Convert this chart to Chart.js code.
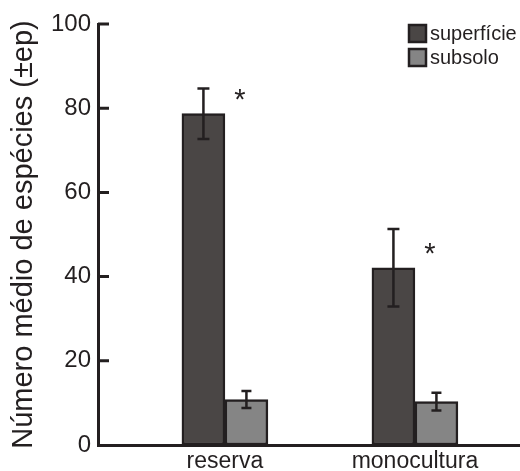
<!DOCTYPE html>
<html>
<head>
<meta charset="utf-8">
<script src="https://cdn.jsdelivr.net/npm/chart.js@4"></script>
<style>
  html, body { margin: 0; padding: 0; background: #fff; }
</style>
</head>
<body>
<canvas id="grafico" width="520" height="471"></canvas>
<script>
// Dados
const categorias = ["reserva", "monocultura"];
const superficie = [78.7, 42.1];
const superficieEp = [6.0, 9.2];
const subsolo = [10.8, 10.3];
const subsoloEp = [2.0, 2.1];
const asteriscos = [true, true]; // diferença significativa (superfície x subsolo)
const marcasY = [0, 20, 40, 60, 80, 100];

const preto = "#231f20";
const fonte = "'Liberation Sans', Arial, sans-serif";

// barras de erro, asteriscos, marcas internas do eixo y e legenda
const extras = {
  id: "extras",
  afterDatasetsDraw(chart) {
    const ctx = chart.ctx;
    const y = chart.scales.y;
    ctx.save();
    ctx.strokeStyle = preto;
    ctx.lineWidth = 2.5;
    chart.data.datasets.forEach((ds, i) => {
      const meta = chart.getDatasetMeta(i);
      meta.data.forEach((bar, j) => {
        const v = ds.data[j].y;
        const ep = ds.ep[j];
        const yTop = y.getPixelForValue(v + ep);
        const yBot = y.getPixelForValue(v - ep);
        const cap = i === 0 ? 6 : 5;
        ctx.beginPath();
        ctx.moveTo(bar.x, yTop);
        ctx.lineTo(bar.x, yBot);
        ctx.moveTo(bar.x - cap, yTop);
        ctx.lineTo(bar.x + cap, yTop);
        ctx.moveTo(bar.x - cap, yBot);
        ctx.lineTo(bar.x + cap, yBot);
        ctx.stroke();
      });
    });

    // asteriscos sobre as barras de superfície
    const meta0 = chart.getDatasetMeta(0);
    ctx.fillStyle = preto;
    ctx.font = "29px " + fonte;
    ctx.textAlign = "center";
    ctx.textBaseline = "alphabetic";
    meta0.data.forEach((bar, j) => {
      if (!asteriscos[j]) return;
      ctx.fillText("*", bar.x + bar.width / 2 + 15, bar.y - 22 + 17);
    });
    ctx.restore();
  },
  afterDraw(chart) {
    const ctx = chart.ctx;
    const y = chart.scales.y;
    const area = chart.chartArea;
    ctx.save();
    // marcas do eixo y para dentro
    ctx.strokeStyle = preto;
    ctx.lineWidth = 3;
    ctx.beginPath();
    marcasY.forEach(m => {
      if (m === 0) return;
      const py = y.getPixelForValue(m);
      ctx.moveTo(area.left, py);
      ctx.lineTo(area.left + 11, py);
    });
    ctx.stroke();

    // legenda
    const lx = 409, ly = 25, passo = 24, lado = 17;
    ctx.font = "20px " + fonte;
    ctx.textAlign = "left";
    ctx.textBaseline = "middle";
    chart.data.datasets.forEach((ds, i) => {
      const top = ly + i * passo;
      ctx.fillStyle = ds.backgroundColor;
      ctx.fillRect(lx, top, lado, lado);
      ctx.lineWidth = 2.5;
      ctx.strokeStyle = preto;
      ctx.strokeRect(lx, top, lado, lado);
      ctx.fillStyle = preto;
      ctx.fillText(ds.label, lx + lado + 4, top + lado / 2 + 1);
    });
    ctx.restore();
  }
};

const ctx = document.getElementById("grafico").getContext("2d");

new Chart(ctx, {
  type: "bar",
  data: {
    datasets: [
      {
        label: "superfície",
        data: superficie.map((v, i) => ({ x: i + 1, y: v })),
        ep: superficieEp,
        backgroundColor: "#4a4645",
        borderColor: preto,
        borderWidth: 2.5,
        borderSkipped: false,
        barThickness: 43,
      },
      {
        label: "subsolo",
        data: subsolo.map((v, i) => ({ x: i + 1, y: v })),
        ep: subsoloEp,
        backgroundColor: "#858585",
        borderColor: preto,
        borderWidth: 2.5,
        borderSkipped: false,
        barThickness: 43,
      },
    ],
  },
  options: {
    responsive: false,
    animation: false,
    layout: { padding: { top: 24, right: 0, left: 0, bottom: 0 } },
    plugins: {
      legend: { display: false },
      tooltip: { enabled: false },
    },
    scales: {
      x: {
        type: "linear",
        offset: false,
        bounds: "data",
        min: 0.332,
        max: 2.553,
        grid: { display: false, drawTicks: false, offset: false },
        border: { display: true, color: preto, width: 3 },
        afterBuildTicks: (s) => {
          s.ticks = categorias.map((c, i) => ({ value: i + 1 }));
        },
        afterFit: (s) => { s.height = 26; },
        ticks: {
          autoSkip: false,
          maxRotation: 0,
          padding: 3,
          color: preto,
          font: { family: fonte, size: 23 },
          callback: (v) => categorias[v - 1],
        },
      },
      y: {
        min: 0,
        max: 100,
        grid: { display: false, drawTicks: false },
        border: { display: true, color: preto, width: 3 },
        afterBuildTicks: (s) => {
          s.ticks = marcasY.map(v => ({ value: v }));
        },
        afterFit: (s) => { s.width = 98; },
        ticks: {
          padding: 7,
          color: preto,
          font: { family: fonte, size: 24 },
        },
        title: {
          display: true,
          text: "Número médio de espécies (±ep)",
          color: preto,
          font: { family: fonte, size: 29 },
          padding: { top: 7, bottom: 0 },
        },
      },
    },
  },
  plugins: [extras],
});
</script>
</body>
</html>
